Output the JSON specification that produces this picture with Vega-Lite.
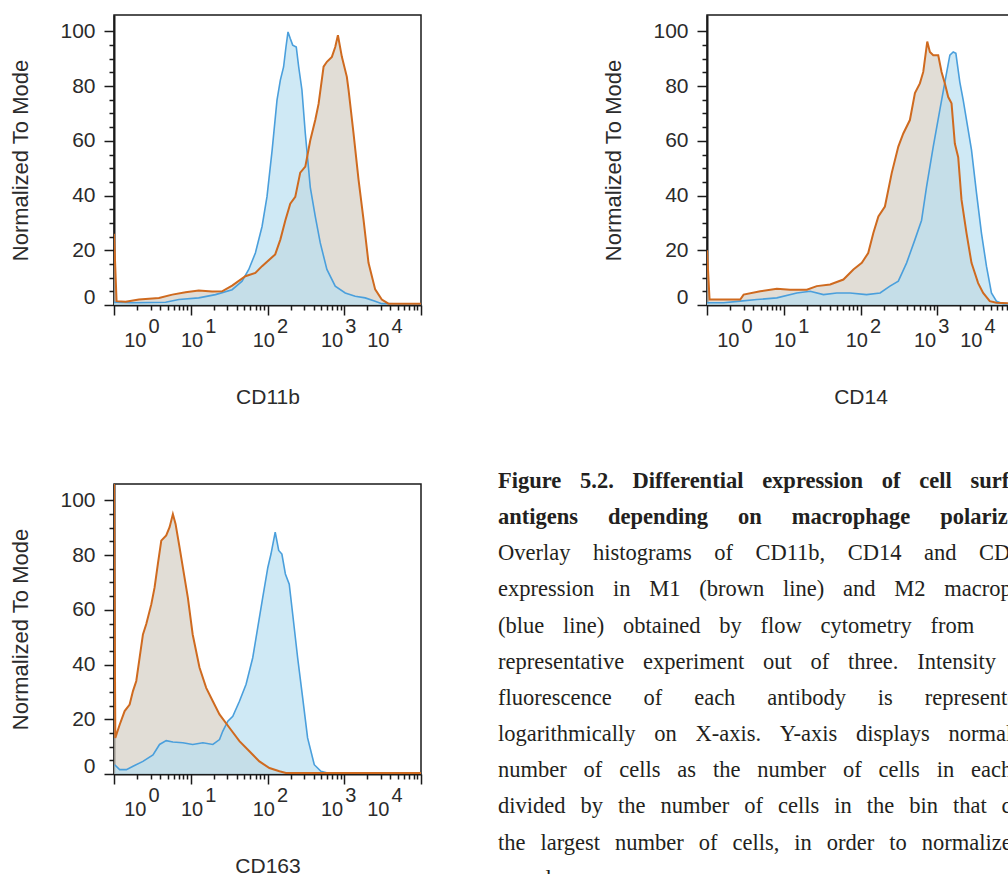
{
  "$schema": "https://vega.github.io/schema/vega-lite/v6.json",
  "background": "white",
  "padding": {"left": 8, "top": 14, "right": 0, "bottom": 0},
  "datasets": {
    "hist": [
      {"marker": "CD11b", "cells": "M1", "intensity": 1.0, "pct": 26},
      {"marker": "CD11b", "cells": "M1", "intensity": 1.08, "pct": 1.4},
      {"marker": "CD11b", "cells": "M1", "intensity": 1.42, "pct": 1.2},
      {"marker": "CD11b", "cells": "M1", "intensity": 2.11, "pct": 2.0},
      {"marker": "CD11b", "cells": "M1", "intensity": 3.85, "pct": 2.6},
      {"marker": "CD11b", "cells": "M1", "intensity": 5.74, "pct": 3.8},
      {"marker": "CD11b", "cells": "M1", "intensity": 8.55, "pct": 4.7},
      {"marker": "CD11b", "cells": "M1", "intensity": 12.7, "pct": 5.3},
      {"marker": "CD11b", "cells": "M1", "intensity": 19.0, "pct": 4.9},
      {"marker": "CD11b", "cells": "M1", "intensity": 25.6, "pct": 5.0},
      {"marker": "CD11b", "cells": "M1", "intensity": 34.6, "pct": 7.1},
      {"marker": "CD11b", "cells": "M1", "intensity": 51.5, "pct": 10.5},
      {"marker": "CD11b", "cells": "M1", "intensity": 69.5, "pct": 11.7},
      {"marker": "CD11b", "cells": "M1", "intensity": 84.9, "pct": 14.2},
      {"marker": "CD11b", "cells": "M1", "intensity": 126, "pct": 18.5},
      {"marker": "CD11b", "cells": "M1", "intensity": 147, "pct": 23.9},
      {"marker": "CD11b", "cells": "M1", "intensity": 171, "pct": 31},
      {"marker": "CD11b", "cells": "M1", "intensity": 198, "pct": 37},
      {"marker": "CD11b", "cells": "M1", "intensity": 230, "pct": 39.5},
      {"marker": "CD11b", "cells": "M1", "intensity": 267, "pct": 48.4},
      {"marker": "CD11b", "cells": "M1", "intensity": 311, "pct": 50.6},
      {"marker": "CD11b", "cells": "M1", "intensity": 361, "pct": 60.2},
      {"marker": "CD11b", "cells": "M1", "intensity": 419, "pct": 67.6},
      {"marker": "CD11b", "cells": "M1", "intensity": 463, "pct": 73.5},
      {"marker": "CD11b", "cells": "M1", "intensity": 538, "pct": 87.1},
      {"marker": "CD11b", "cells": "M1", "intensity": 594, "pct": 88.9},
      {"marker": "CD11b", "cells": "M1", "intensity": 690, "pct": 90.7},
      {"marker": "CD11b", "cells": "M1", "intensity": 763, "pct": 94.3},
      {"marker": "CD11b", "cells": "M1", "intensity": 827, "pct": 98.6},
      {"marker": "CD11b", "cells": "M1", "intensity": 931, "pct": 90.7},
      {"marker": "CD11b", "cells": "M1", "intensity": 1081, "pct": 83.4},
      {"marker": "CD11b", "cells": "M1", "intensity": 1138, "pct": 78.6},
      {"marker": "CD11b", "cells": "M1", "intensity": 1321, "pct": 62.7},
      {"marker": "CD11b", "cells": "M1", "intensity": 1535, "pct": 45.8},
      {"marker": "CD11b", "cells": "M1", "intensity": 1783, "pct": 31.2},
      {"marker": "CD11b", "cells": "M1", "intensity": 2070, "pct": 15.4},
      {"marker": "CD11b", "cells": "M1", "intensity": 2528, "pct": 5.7},
      {"marker": "CD11b", "cells": "M1", "intensity": 3085, "pct": 2.0},
      {"marker": "CD11b", "cells": "M1", "intensity": 3767, "pct": 0.5},
      {"marker": "CD11b", "cells": "M1", "intensity": 10000, "pct": 0.5},

      {"marker": "CD11b", "cells": "M2", "intensity": 1.0, "pct": 1.0},
      {"marker": "CD11b", "cells": "M2", "intensity": 1.73, "pct": 0.8},
      {"marker": "CD11b", "cells": "M2", "intensity": 4.7, "pct": 1.0},
      {"marker": "CD11b", "cells": "M2", "intensity": 7.0, "pct": 2.0},
      {"marker": "CD11b", "cells": "M2", "intensity": 12.7, "pct": 2.6},
      {"marker": "CD11b", "cells": "M2", "intensity": 21.0, "pct": 3.8},
      {"marker": "CD11b", "cells": "M2", "intensity": 34.6, "pct": 5.6},
      {"marker": "CD11b", "cells": "M2", "intensity": 46.6, "pct": 8.7},
      {"marker": "CD11b", "cells": "M2", "intensity": 57.0, "pct": 13},
      {"marker": "CD11b", "cells": "M2", "intensity": 69.5, "pct": 19},
      {"marker": "CD11b", "cells": "M2", "intensity": 84.9, "pct": 28.7},
      {"marker": "CD11b", "cells": "M2", "intensity": 98.6, "pct": 39.7},
      {"marker": "CD11b", "cells": "M2", "intensity": 115, "pct": 56.7},
      {"marker": "CD11b", "cells": "M2", "intensity": 133, "pct": 74.9},
      {"marker": "CD11b", "cells": "M2", "intensity": 147, "pct": 82.2},
      {"marker": "CD11b", "cells": "M2", "intensity": 162, "pct": 87},
      {"marker": "CD11b", "cells": "M2", "intensity": 174, "pct": 94.3},
      {"marker": "CD11b", "cells": "M2", "intensity": 185, "pct": 99.8},
      {"marker": "CD11b", "cells": "M2", "intensity": 198, "pct": 97.4},
      {"marker": "CD11b", "cells": "M2", "intensity": 213, "pct": 95},
      {"marker": "CD11b", "cells": "M2", "intensity": 237, "pct": 94.3},
      {"marker": "CD11b", "cells": "M2", "intensity": 255, "pct": 87},
      {"marker": "CD11b", "cells": "M2", "intensity": 281, "pct": 78.6},
      {"marker": "CD11b", "cells": "M2", "intensity": 311, "pct": 62.7},
      {"marker": "CD11b", "cells": "M2", "intensity": 361, "pct": 43},
      {"marker": "CD11b", "cells": "M2", "intensity": 419, "pct": 32.4},
      {"marker": "CD11b", "cells": "M2", "intensity": 487, "pct": 22.7},
      {"marker": "CD11b", "cells": "M2", "intensity": 594, "pct": 13},
      {"marker": "CD11b", "cells": "M2", "intensity": 763, "pct": 6.9},
      {"marker": "CD11b", "cells": "M2", "intensity": 1030, "pct": 4.4},
      {"marker": "CD11b", "cells": "M2", "intensity": 1390, "pct": 3.2},
      {"marker": "CD11b", "cells": "M2", "intensity": 1875, "pct": 2.6},
      {"marker": "CD11b", "cells": "M2", "intensity": 2528, "pct": 1.4},
      {"marker": "CD11b", "cells": "M2", "intensity": 3085, "pct": 0.5},
      {"marker": "CD11b", "cells": "M2", "intensity": 10000, "pct": 0.3},

      {"marker": "CD14", "cells": "M1", "intensity": 1.0, "pct": 20},
      {"marker": "CD14", "cells": "M1", "intensity": 1.08, "pct": 2.0},
      {"marker": "CD14", "cells": "M1", "intensity": 2.71, "pct": 2.0},
      {"marker": "CD14", "cells": "M1", "intensity": 3.0, "pct": 3.8},
      {"marker": "CD14", "cells": "M1", "intensity": 4.94, "pct": 5.0},
      {"marker": "CD14", "cells": "M1", "intensity": 8.13, "pct": 5.9},
      {"marker": "CD14", "cells": "M1", "intensity": 12.1, "pct": 5.6},
      {"marker": "CD14", "cells": "M1", "intensity": 20.0, "pct": 5.6},
      {"marker": "CD14", "cells": "M1", "intensity": 26.9, "pct": 6.9},
      {"marker": "CD14", "cells": "M1", "intensity": 40.2, "pct": 7.5},
      {"marker": "CD14", "cells": "M1", "intensity": 59.9, "pct": 9.3},
      {"marker": "CD14", "cells": "M1", "intensity": 80.8, "pct": 13},
      {"marker": "CD14", "cells": "M1", "intensity": 104, "pct": 15.4},
      {"marker": "CD14", "cells": "M1", "intensity": 126, "pct": 19},
      {"marker": "CD14", "cells": "M1", "intensity": 147, "pct": 26.3},
      {"marker": "CD14", "cells": "M1", "intensity": 171, "pct": 32.4},
      {"marker": "CD14", "cells": "M1", "intensity": 208, "pct": 36},
      {"marker": "CD14", "cells": "M1", "intensity": 255, "pct": 48.2},
      {"marker": "CD14", "cells": "M1", "intensity": 311, "pct": 57.9},
      {"marker": "CD14", "cells": "M1", "intensity": 361, "pct": 62.7},
      {"marker": "CD14", "cells": "M1", "intensity": 440, "pct": 67.6},
      {"marker": "CD14", "cells": "M1", "intensity": 512, "pct": 77.5},
      {"marker": "CD14", "cells": "M1", "intensity": 594, "pct": 81},
      {"marker": "CD14", "cells": "M1", "intensity": 657, "pct": 85.2},
      {"marker": "CD14", "cells": "M1", "intensity": 741, "pct": 96.3},
      {"marker": "CD14", "cells": "M1", "intensity": 802, "pct": 92.5},
      {"marker": "CD14", "cells": "M1", "intensity": 887, "pct": 91.3},
      {"marker": "CD14", "cells": "M1", "intensity": 1030, "pct": 91.3},
      {"marker": "CD14", "cells": "M1", "intensity": 1138, "pct": 85.2},
      {"marker": "CD14", "cells": "M1", "intensity": 1257, "pct": 81},
      {"marker": "CD14", "cells": "M1", "intensity": 1390, "pct": 76},
      {"marker": "CD14", "cells": "M1", "intensity": 1535, "pct": 73.7},
      {"marker": "CD14", "cells": "M1", "intensity": 1695, "pct": 59},
      {"marker": "CD14", "cells": "M1", "intensity": 1875, "pct": 54},
      {"marker": "CD14", "cells": "M1", "intensity": 2070, "pct": 38.5},
      {"marker": "CD14", "cells": "M1", "intensity": 2405, "pct": 26.3},
      {"marker": "CD14", "cells": "M1", "intensity": 2793, "pct": 15.4},
      {"marker": "CD14", "cells": "M1", "intensity": 3410, "pct": 8},
      {"marker": "CD14", "cells": "M1", "intensity": 3963, "pct": 4.4},
      {"marker": "CD14", "cells": "M1", "intensity": 4834, "pct": 1.4},
      {"marker": "CD14", "cells": "M1", "intensity": 5900, "pct": 0.8},
      {"marker": "CD14", "cells": "M1", "intensity": 10000, "pct": 0.5},

      {"marker": "CD14", "cells": "M2", "intensity": 1.0, "pct": 0.8},
      {"marker": "CD14", "cells": "M2", "intensity": 1.65, "pct": 0.8},
      {"marker": "CD14", "cells": "M2", "intensity": 2.71, "pct": 1.4},
      {"marker": "CD14", "cells": "M2", "intensity": 4.47, "pct": 2.0},
      {"marker": "CD14", "cells": "M2", "intensity": 8.13, "pct": 2.6},
      {"marker": "CD14", "cells": "M2", "intensity": 14.8, "pct": 4.4},
      {"marker": "CD14", "cells": "M2", "intensity": 22.1, "pct": 5.0},
      {"marker": "CD14", "cells": "M2", "intensity": 32.9, "pct": 3.8},
      {"marker": "CD14", "cells": "M2", "intensity": 49.0, "pct": 4.4},
      {"marker": "CD14", "cells": "M2", "intensity": 73.1, "pct": 4.4},
      {"marker": "CD14", "cells": "M2", "intensity": 120, "pct": 3.8},
      {"marker": "CD14", "cells": "M2", "intensity": 180, "pct": 4.4},
      {"marker": "CD14", "cells": "M2", "intensity": 242, "pct": 6.9},
      {"marker": "CD14", "cells": "M2", "intensity": 311, "pct": 8.7},
      {"marker": "CD14", "cells": "M2", "intensity": 399, "pct": 15.4},
      {"marker": "CD14", "cells": "M2", "intensity": 512, "pct": 23.9},
      {"marker": "CD14", "cells": "M2", "intensity": 625, "pct": 31},
      {"marker": "CD14", "cells": "M2", "intensity": 726, "pct": 43.3},
      {"marker": "CD14", "cells": "M2", "intensity": 887, "pct": 57.9},
      {"marker": "CD14", "cells": "M2", "intensity": 1081, "pct": 71.3},
      {"marker": "CD14", "cells": "M2", "intensity": 1257, "pct": 81.5},
      {"marker": "CD14", "cells": "M2", "intensity": 1460, "pct": 91.3},
      {"marker": "CD14", "cells": "M2", "intensity": 1614, "pct": 92.5},
      {"marker": "CD14", "cells": "M2", "intensity": 1748, "pct": 92},
      {"marker": "CD14", "cells": "M2", "intensity": 1968, "pct": 81.5},
      {"marker": "CD14", "cells": "M2", "intensity": 2176, "pct": 75},
      {"marker": "CD14", "cells": "M2", "intensity": 2528, "pct": 64},
      {"marker": "CD14", "cells": "M2", "intensity": 2793, "pct": 56.7},
      {"marker": "CD14", "cells": "M2", "intensity": 3245, "pct": 41},
      {"marker": "CD14", "cells": "M2", "intensity": 3767, "pct": 26.3},
      {"marker": "CD14", "cells": "M2", "intensity": 4376, "pct": 14.2},
      {"marker": "CD14", "cells": "M2", "intensity": 5082, "pct": 4.4},
      {"marker": "CD14", "cells": "M2", "intensity": 5900, "pct": 1.4},
      {"marker": "CD14", "cells": "M2", "intensity": 7209, "pct": 0.5},
      {"marker": "CD14", "cells": "M2", "intensity": 10000, "pct": 0.3},

      {"marker": "CD163", "cells": "M1", "intensity": 1.0, "pct": 110},
      {"marker": "CD163", "cells": "M1", "intensity": 1.04, "pct": 13.2},
      {"marker": "CD163", "cells": "M1", "intensity": 1.185, "pct": 18},
      {"marker": "CD163", "cells": "M1", "intensity": 1.376, "pct": 23},
      {"marker": "CD163", "cells": "M1", "intensity": 1.598, "pct": 25.4},
      {"marker": "CD163", "cells": "M1", "intensity": 1.766, "pct": 30.3},
      {"marker": "CD163", "cells": "M1", "intensity": 1.951, "pct": 34},
      {"marker": "CD163", "cells": "M1", "intensity": 2.157, "pct": 42.5},
      {"marker": "CD163", "cells": "M1", "intensity": 2.383, "pct": 51},
      {"marker": "CD163", "cells": "M1", "intensity": 2.633, "pct": 54.8},
      {"marker": "CD163", "cells": "M1", "intensity": 3.06, "pct": 62},
      {"marker": "CD163", "cells": "M1", "intensity": 3.38, "pct": 68.2},
      {"marker": "CD163", "cells": "M1", "intensity": 3.73, "pct": 76.8},
      {"marker": "CD163", "cells": "M1", "intensity": 4.13, "pct": 85.3},
      {"marker": "CD163", "cells": "M1", "intensity": 4.79, "pct": 87.2},
      {"marker": "CD163", "cells": "M1", "intensity": 5.3, "pct": 90.2},
      {"marker": "CD163", "cells": "M1", "intensity": 5.85, "pct": 95},
      {"marker": "CD163", "cells": "M1", "intensity": 6.34, "pct": 91.4},
      {"marker": "CD163", "cells": "M1", "intensity": 7.14, "pct": 82.9},
      {"marker": "CD163", "cells": "M1", "intensity": 7.89, "pct": 75.5},
      {"marker": "CD163", "cells": "M1", "intensity": 9.17, "pct": 64.5},
      {"marker": "CD163", "cells": "M1", "intensity": 10.6, "pct": 51},
      {"marker": "CD163", "cells": "M1", "intensity": 13.0, "pct": 38.9},
      {"marker": "CD163", "cells": "M1", "intensity": 15.9, "pct": 31.5},
      {"marker": "CD163", "cells": "M1", "intensity": 19.4, "pct": 26.6},
      {"marker": "CD163", "cells": "M1", "intensity": 23.7, "pct": 21.8},
      {"marker": "CD163", "cells": "M1", "intensity": 31.9, "pct": 16.9},
      {"marker": "CD163", "cells": "M1", "intensity": 43.1, "pct": 12},
      {"marker": "CD163", "cells": "M1", "intensity": 58.1, "pct": 8.3},
      {"marker": "CD163", "cells": "M1", "intensity": 78.4, "pct": 4.6},
      {"marker": "CD163", "cells": "M1", "intensity": 106, "pct": 2.2},
      {"marker": "CD163", "cells": "M1", "intensity": 143, "pct": 1.0},
      {"marker": "CD163", "cells": "M1", "intensity": 174, "pct": 0.4},
      {"marker": "CD163", "cells": "M1", "intensity": 10000, "pct": 0.4},

      {"marker": "CD163", "cells": "M2", "intensity": 1.02, "pct": 3.4},
      {"marker": "CD163", "cells": "M2", "intensity": 1.185, "pct": 1.6},
      {"marker": "CD163", "cells": "M2", "intensity": 1.45, "pct": 1.6},
      {"marker": "CD163", "cells": "M2", "intensity": 1.77, "pct": 2.8},
      {"marker": "CD163", "cells": "M2", "intensity": 2.38, "pct": 4.6},
      {"marker": "CD163", "cells": "M2", "intensity": 3.22, "pct": 7},
      {"marker": "CD163", "cells": "M2", "intensity": 3.92, "pct": 10.8},
      {"marker": "CD163", "cells": "M2", "intensity": 4.79, "pct": 12.2},
      {"marker": "CD163", "cells": "M2", "intensity": 5.85, "pct": 11.7},
      {"marker": "CD163", "cells": "M2", "intensity": 7.89, "pct": 11.4},
      {"marker": "CD163", "cells": "M2", "intensity": 10.6, "pct": 10.8},
      {"marker": "CD163", "cells": "M2", "intensity": 14.4, "pct": 11.4},
      {"marker": "CD163", "cells": "M2", "intensity": 19.4, "pct": 10.8},
      {"marker": "CD163", "cells": "M2", "intensity": 23.7, "pct": 12.6},
      {"marker": "CD163", "cells": "M2", "intensity": 26.1, "pct": 15.6},
      {"marker": "CD163", "cells": "M2", "intensity": 30.4, "pct": 19.3},
      {"marker": "CD163", "cells": "M2", "intensity": 35.3, "pct": 21.1},
      {"marker": "CD163", "cells": "M2", "intensity": 43.1, "pct": 26.6},
      {"marker": "CD163", "cells": "M2", "intensity": 52.6, "pct": 32.8},
      {"marker": "CD163", "cells": "M2", "intensity": 64.2, "pct": 42.5},
      {"marker": "CD163", "cells": "M2", "intensity": 74.6, "pct": 53.5},
      {"marker": "CD163", "cells": "M2", "intensity": 86.6, "pct": 64.5},
      {"marker": "CD163", "cells": "M2", "intensity": 101, "pct": 75.5},
      {"marker": "CD163", "cells": "M2", "intensity": 111, "pct": 80.4},
      {"marker": "CD163", "cells": "M2", "intensity": 126, "pct": 88.4},
      {"marker": "CD163", "cells": "M2", "intensity": 140, "pct": 81.7},
      {"marker": "CD163", "cells": "M2", "intensity": 154, "pct": 80.4},
      {"marker": "CD163", "cells": "M2", "intensity": 171, "pct": 73.1},
      {"marker": "CD163", "cells": "M2", "intensity": 192, "pct": 69.4},
      {"marker": "CD163", "cells": "M2", "intensity": 213, "pct": 58.4},
      {"marker": "CD163", "cells": "M2", "intensity": 247, "pct": 42.5},
      {"marker": "CD163", "cells": "M2", "intensity": 287, "pct": 27.9},
      {"marker": "CD163", "cells": "M2", "intensity": 333, "pct": 13.2},
      {"marker": "CD163", "cells": "M2", "intensity": 407, "pct": 3.4},
      {"marker": "CD163", "cells": "M2", "intensity": 497, "pct": 1.0},
      {"marker": "CD163", "cells": "M2", "intensity": 607, "pct": 0.4},
      {"marker": "CD163", "cells": "M2", "intensity": 10000, "pct": 0.2}
    ],
    "caption": [
      {"line": 0, "text": "Figure\u2002\u20045.2.\u2002\u2004Differential\u2002\u2004expression\u2002\u2004of\u2002\u2004cell\u2002\u2004surface"},
      {"line": 1, "text": "antigens\u2003\u2004depending\u2003\u2004on\u2003\u2004macrophage\u2003\u2004polarization."},
      {"line": 2, "text": "Overlay\u2003histograms\u2003of\u2003CD11b,\u2003CD14\u2003and\u2003CD163"},
      {"line": 3, "text": "expression\u2002\u2004in\u2002\u2004M1\u2002\u2004(brown\u2002\u2004line)\u2002\u2004and\u2002\u2004M2\u2002\u2004macrophages"},
      {"line": 4, "text": "(blue\u2002\u2004line)\u2002\u2004obtained\u2002\u2004by\u2002\u2004flow\u2002\u2004cytometry\u2002\u2004from"},
      {"line": 5, "text": "representative\u2002\u2004experiment\u2002\u2004out\u2002\u2004of\u2002\u2004three.\u2002\u2004Intensity\u2002\u2004of"},
      {"line": 6, "text": "fluorescence\u2003\u2005\u2006of\u2003\u2005\u2006each\u2003\u2005\u2006antibody\u2003\u2005\u2006is\u2003\u2005\u2006represented"},
      {"line": 7, "text": "logarithmically\u2002\u2004on\u2002\u2004X-axis.\u2002\u2004Y-axis\u2002\u2004displays\u2002\u2004normalized"},
      {"line": 8, "text": "number\u2002\u2005of\u2002\u2005cells\u2002\u2005as\u2002\u2005the\u2002\u2005number\u2002\u2005of\u2002\u2005cells\u2002\u2005in\u2002\u2005each\u2002\u2005bin"},
      {"line": 9, "text": "divided\u2002\u2006by\u2002\u2006the\u2002\u2006number\u2002\u2006of\u2002\u2006cells\u2002\u2006in\u2002\u2006the\u2002\u2006bin\u2002\u2006that\u2002\u2006contains"},
      {"line": 10, "text": "the\u2002\u2006largest\u2002\u2006number\u2002\u2006of\u2002\u2006cells,\u2002\u2006in\u2002\u2006order\u2002\u2006to\u2002\u2006normalize"},
      {"line": 11, "text": "samples."}
    ]
  },
  "columns": 2,
  "align": "each",
  "bounds": "full",
  "spacing": {"row": 61, "column": 75},
  "concat": [
    {
      "width": 307, "height": 290,
      "data": {"name": "hist"},
      "transform": [{"filter": "datum.marker == 'CD11b'"}],
      "encoding": {
        "y": {"field": "pct", "type": "quantitative", "stack": null,
          "scale": {"domain": [0, 106], "nice": false, "zero": false},
          "axis": {"title": "Normalized To Mode", "values": [0,5,10,15,20,25,30,35,40,45,50,55,60,65,70,75,80,85,90,95,100],
            "labelExpr": "datum.value % 20 == 0 ? datum.label : ''",
            "tickSize": {"condition": {"test": "datum.value % 20 == 0", "value": 10}, "value": 5},
            "labelOffset": {"condition": {"test": "datum.value == 0", "value": -8}, "value": 0},
            "labelPadding": 9, "labelFontSize": 21, "titleFontSize": 22, "titleX": -87, "titleY": 145, "titleAlign": "center", "titleBaseline": "alphabetic", "titleAngle": 270}}
      },
      "layer": [
        {"mark": {"type": "area", "opacity": 0.68, "clip": true},
         "encoding": {
           "x": {"field": "intensity", "type": "quantitative", "scale": {"type": "log", "domain": [1, 10000], "nice": false},
             "axis": {"orient": "bottom", "title": "CD11b", "titleY": 98, "titleBaseline": "alphabetic", "labels": false,
               "values": [1,2,3,4,5,6,7,8,9,10,20,30,40,50,60,70,80,90,100,200,300,400,500,600,700,800,900,1000,2000,3000,4000,5000,6000,7000,8000,9000,10000],
               "tickSize": {"condition": {"test": "datum.value == 1 || datum.value == 10 || datum.value == 100 || datum.value == 1000 || datum.value == 10000", "value": 10}, "value": 5}}},
           "color": {"field": "cells", "type": "nominal", "scale": {"domain": ["M1", "M2"], "range": ["#d3cdc2", "#b8dff0"]}, "legend": null}
         }},
        {"transform": [{"filter": "datum.cells == 'M2'"}],
         "mark": {"type": "line", "color": "#4a9fdc", "strokeWidth": 1.6, "clip": true},
         "encoding": {
           "x": {"field": "intensity", "type": "quantitative", "scale": {"type": "log", "domain": [1, 10000], "nice": false},
             "axis": {"orient": "bottom", "title": null, "values": [1, 10, 100, 1000, 10000], "labelExpr": "'10'", "ticks": false, "domain": false,
               "labelAlign": "right", "labelBaseline": "alphabetic", "labelPadding": 41,
               "labelOffset": {"condition": [{"test": "datum.value == 1", "value": 32}, {"test": "datum.value == 10", "value": 12}, {"test": "datum.value == 100", "value": 7}, {"test": "datum.value == 1000", "value": -1.5}], "value": -32}}}
         }},
        {"transform": [{"filter": "datum.cells == 'M1'"}],
         "mark": {"type": "line", "color": "#cf6a1f", "strokeWidth": 2, "clip": true},
         "encoding": {
           "x": {"field": "intensity", "type": "quantitative", "scale": {"type": "log", "domain": [1, 10000], "nice": false},
             "axis": {"orient": "bottom", "title": null, "values": [1, 10, 100, 1000, 10000],
               "labelExpr": "datum.value == 1 ? '0' : datum.value == 10 ? '1' : datum.value == 100 ? '2' : datum.value == 1000 ? '3' : '4'",
               "ticks": false, "domain": false, "labelAlign": "left", "labelBaseline": "alphabetic", "labelPadding": 27,
               "labelOffset": {"condition": [{"test": "datum.value == 1", "value": 34}, {"test": "datum.value == 10", "value": 14}, {"test": "datum.value == 100", "value": 9}, {"test": "datum.value == 1000", "value": 0.5}], "value": -30}}}
         }}
      ],
      "resolve": {"axis": {"x": "independent"}}
    },
    {
      "width": 307, "height": 290,
      "data": {"name": "hist"},
      "transform": [{"filter": "datum.marker == 'CD14'"}],
      "encoding": {
        "y": {"field": "pct", "type": "quantitative", "stack": null,
          "scale": {"domain": [0, 106], "nice": false, "zero": false},
          "axis": {"title": "Normalized To Mode", "values": [0,5,10,15,20,25,30,35,40,45,50,55,60,65,70,75,80,85,90,95,100],
            "labelExpr": "datum.value % 20 == 0 ? datum.label : ''",
            "tickSize": {"condition": {"test": "datum.value % 20 == 0", "value": 10}, "value": 5},
            "labelOffset": {"condition": {"test": "datum.value == 0", "value": -8}, "value": 0},
            "labelPadding": 9, "labelFontSize": 21, "titleFontSize": 22, "titleX": -87, "titleY": 145, "titleAlign": "center", "titleBaseline": "alphabetic", "titleAngle": 270}}
      },
      "layer": [
        {"mark": {"type": "area", "opacity": 0.68, "clip": true},
         "encoding": {
           "x": {"field": "intensity", "type": "quantitative", "scale": {"type": "log", "domain": [1, 10000], "nice": false},
             "axis": {"orient": "bottom", "title": "CD14", "titleY": 98, "titleBaseline": "alphabetic", "labels": false,
               "values": [1,2,3,4,5,6,7,8,9,10,20,30,40,50,60,70,80,90,100,200,300,400,500,600,700,800,900,1000,2000,3000,4000,5000,6000,7000,8000,9000,10000],
               "tickSize": {"condition": {"test": "datum.value == 1 || datum.value == 10 || datum.value == 100 || datum.value == 1000 || datum.value == 10000", "value": 10}, "value": 5}}},
           "color": {"field": "cells", "type": "nominal", "scale": {"domain": ["M1", "M2"], "range": ["#d3cdc2", "#b8dff0"]}, "legend": null}
         }},
        {"transform": [{"filter": "datum.cells == 'M2'"}],
         "mark": {"type": "line", "color": "#4a9fdc", "strokeWidth": 1.6, "clip": true},
         "encoding": {
           "x": {"field": "intensity", "type": "quantitative", "scale": {"type": "log", "domain": [1, 10000], "nice": false},
             "axis": {"orient": "bottom", "title": null, "values": [1, 10, 100, 1000, 10000], "labelExpr": "'10'", "ticks": false, "domain": false,
               "labelAlign": "right", "labelBaseline": "alphabetic", "labelPadding": 41,
               "labelOffset": {"condition": [{"test": "datum.value == 1", "value": 32}, {"test": "datum.value == 10", "value": 12}, {"test": "datum.value == 100", "value": 7}, {"test": "datum.value == 1000", "value": -1.5}], "value": -32}}}
         }},
        {"transform": [{"filter": "datum.cells == 'M1'"}],
         "mark": {"type": "line", "color": "#cf6a1f", "strokeWidth": 2, "clip": true},
         "encoding": {
           "x": {"field": "intensity", "type": "quantitative", "scale": {"type": "log", "domain": [1, 10000], "nice": false},
             "axis": {"orient": "bottom", "title": null, "values": [1, 10, 100, 1000, 10000],
               "labelExpr": "datum.value == 1 ? '0' : datum.value == 10 ? '1' : datum.value == 100 ? '2' : datum.value == 1000 ? '3' : '4'",
               "ticks": false, "domain": false, "labelAlign": "left", "labelBaseline": "alphabetic", "labelPadding": 27,
               "labelOffset": {"condition": [{"test": "datum.value == 1", "value": 34}, {"test": "datum.value == 10", "value": 14}, {"test": "datum.value == 100", "value": 9}, {"test": "datum.value == 1000", "value": 0.5}], "value": -30}}}
         }}
      ],
      "resolve": {"axis": {"x": "independent"}}
    },
    {
      "width": 307, "height": 290,
      "data": {"name": "hist"},
      "transform": [{"filter": "datum.marker == 'CD163'"}],
      "encoding": {
        "y": {"field": "pct", "type": "quantitative", "stack": null,
          "scale": {"domain": [0, 106], "nice": false, "zero": false},
          "axis": {"title": "Normalized To Mode", "values": [0,5,10,15,20,25,30,35,40,45,50,55,60,65,70,75,80,85,90,95,100],
            "labelExpr": "datum.value % 20 == 0 ? datum.label : ''",
            "tickSize": {"condition": {"test": "datum.value % 20 == 0", "value": 10}, "value": 5},
            "labelOffset": {"condition": {"test": "datum.value == 0", "value": -8}, "value": 0},
            "labelPadding": 9, "labelFontSize": 21, "titleFontSize": 22, "titleX": -87, "titleY": 145, "titleAlign": "center", "titleBaseline": "alphabetic", "titleAngle": 270}}
      },
      "layer": [
        {"mark": {"type": "area", "opacity": 0.68, "clip": true},
         "encoding": {
           "x": {"field": "intensity", "type": "quantitative", "scale": {"type": "log", "domain": [1, 10000], "nice": false},
             "axis": {"orient": "bottom", "title": "CD163", "titleY": 98, "titleBaseline": "alphabetic", "labels": false,
               "values": [1,2,3,4,5,6,7,8,9,10,20,30,40,50,60,70,80,90,100,200,300,400,500,600,700,800,900,1000,2000,3000,4000,5000,6000,7000,8000,9000,10000],
               "tickSize": {"condition": {"test": "datum.value == 1 || datum.value == 10 || datum.value == 100 || datum.value == 1000 || datum.value == 10000", "value": 10}, "value": 5}}},
           "color": {"field": "cells", "type": "nominal", "scale": {"domain": ["M1", "M2"], "range": ["#d3cdc2", "#b8dff0"]}, "legend": null}
         }},
        {"transform": [{"filter": "datum.cells == 'M2'"}],
         "mark": {"type": "line", "color": "#4a9fdc", "strokeWidth": 1.6, "clip": true},
         "encoding": {
           "x": {"field": "intensity", "type": "quantitative", "scale": {"type": "log", "domain": [1, 10000], "nice": false},
             "axis": {"orient": "bottom", "title": null, "values": [1, 10, 100, 1000, 10000], "labelExpr": "'10'", "ticks": false, "domain": false,
               "labelAlign": "right", "labelBaseline": "alphabetic", "labelPadding": 41,
               "labelOffset": {"condition": [{"test": "datum.value == 1", "value": 32}, {"test": "datum.value == 10", "value": 12}, {"test": "datum.value == 100", "value": 7}, {"test": "datum.value == 1000", "value": -1.5}], "value": -32}}}
         }},
        {"transform": [{"filter": "datum.cells == 'M1'"}],
         "mark": {"type": "line", "color": "#cf6a1f", "strokeWidth": 2, "clip": true},
         "encoding": {
           "x": {"field": "intensity", "type": "quantitative", "scale": {"type": "log", "domain": [1, 10000], "nice": false},
             "axis": {"orient": "bottom", "title": null, "values": [1, 10, 100, 1000, 10000],
               "labelExpr": "datum.value == 1 ? '0' : datum.value == 10 ? '1' : datum.value == 100 ? '2' : datum.value == 1000 ? '3' : '4'",
               "ticks": false, "domain": false, "labelAlign": "left", "labelBaseline": "alphabetic", "labelPadding": 27,
               "labelOffset": {"condition": [{"test": "datum.value == 1", "value": 34}, {"test": "datum.value == 10", "value": 14}, {"test": "datum.value == 100", "value": 9}, {"test": "datum.value == 1000", "value": 0.5}], "value": -30}}}
         }}
      ],
      "resolve": {"axis": {"x": "independent"}}
    },
    {
      "width": 200, "height": 290,
      "view": {"stroke": null},
      "data": {"name": "caption"},
      "encoding": {
        "x": {"datum": 0, "type": "quantitative", "scale": {"domain": [0, 1]}, "axis": null},
        "y": {"field": "line", "type": "quantitative", "scale": {"domain": [-0.11, 7.908], "reverse": true, "nice": false, "zero": false}, "axis": null},
        "text": {"field": "text"}
      },
      "layer": [
        {"transform": [{"filter": "datum.line < 2"}],
         "mark": {"type": "text", "align": "left", "baseline": "alphabetic", "dx": -209, "font": "Liberation Serif", "fontSize": 22.5, "fontWeight": "bold", "color": "#231f20"}},
        {"transform": [{"filter": "datum.line >= 2"}],
         "mark": {"type": "text", "align": "left", "baseline": "alphabetic", "dx": -209, "font": "Liberation Serif", "fontSize": 22.5, "color": "#231f20"}}
      ]
    }
  ],
  "config": {
    "view": {"stroke": "#1a1a1a", "strokeWidth": 1.5},
    "axis": {"labelFont": "Liberation Sans", "titleFont": "Liberation Sans", "labelColor": "#2b2b2b", "titleColor": "#2b2b2b",
      "tickColor": "#1a1a1a", "domainColor": "#1a1a1a", "grid": false, "labelFlush": false, "labelOverlap": false, "labelBound": false,
      "titleFontWeight": "normal", "titleFontSize": 21, "labelFontSize": 20, "tickWidth": 1.5, "domainWidth": 2}
  }
}
